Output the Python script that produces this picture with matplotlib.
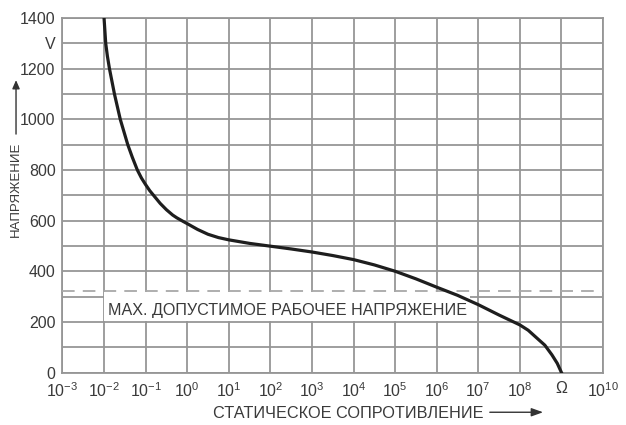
import numpy as np
import matplotlib
matplotlib.use("Agg")
import matplotlib.pyplot as plt
from matplotlib.patches import Rectangle, FancyArrowPatch

plt.rcParams["font.family"] = ["Liberation Sans", "DejaVu Sans"]
plt.rcParams["mathtext.fontset"] = "custom"
plt.rcParams["mathtext.rm"] = "Liberation Sans"
plt.rcParams["mathtext.it"] = "Liberation Sans:italic"

# curve: log10(resistance / ohm) vs voltage
log_r = [-2.0, -1.98, -1.96, -1.92, -1.87, -1.81, -1.75, -1.68, -1.61,
         -1.52, -1.43, -1.32, -1.2, -1.1, -1.0, -0.9, -0.78, -0.65, -0.5,
         -0.35, -0.25, -0.1, 0.0, 0.25, 0.5, 0.75, 1.0, 1.5, 2.0, 2.5,
         3.0, 3.5, 4.0, 4.5, 5.0, 5.5, 6.0, 6.5, 7.0, 7.5, 8.0, 8.2,
         8.45, 8.6, 8.77, 8.9, 9.0]
voltage = [1400, 1350, 1300, 1250, 1200, 1150, 1100, 1050, 1000,
           950, 900, 850, 800, 768, 742, 718, 694, 668, 643,
           622, 611, 597, 588, 565, 546, 533, 524, 510, 499, 488,
           476, 462, 446, 425, 400, 370, 337, 305, 268, 227, 188, 167,
           130, 108, 70, 36, 0]

max_working_v = 320
x_decades = list(range(-3, 11))
x_labels = [r"$10^{%d}$" % d for d in x_decades]
x_labels[x_decades.index(9)] = "Ω"
y_ticks = [0, 200, 400, 600, 800, 1000, 1200, 1300, 1400]
y_labels = ["0", "200", "400", "600", "800", "1000", "1200", "V", "1400"]

TXT = "#3a3a3a"
GRID = "#969696"

fig = plt.figure(figsize=(6.26, 4.25), dpi=100)
ax = fig.add_axes([0.0998, 0.1235, 0.8635, 0.834])

resistance = 10.0 ** np.array(log_r)
ax.plot(resistance, voltage, color="#1e1e1e", linewidth=2.3, zorder=4,
        solid_joinstyle="round")
ax.axhline(max_working_v, color="#a8a8a8", linewidth=1.3,
           linestyle=(0, (7, 4.5)), zorder=3)

ax.set_xscale("log")
ax.set_xlim(1e-3, 1e10)
ax.set_ylim(0, 1400)

ax.set_xticks([10.0 ** d for d in x_decades])
ax.set_xticklabels(x_labels)
ax.xaxis.set_minor_locator(matplotlib.ticker.NullLocator())
ax.set_yticks(y_ticks)
ax.set_yticklabels(y_labels)
ax.set_yticks(np.arange(0, 1401, 100), minor=True)
ax.tick_params(axis="both", which="both", length=0, labelsize=11.5,
               labelcolor=TXT)
ax.tick_params(axis="x", pad=6)
ax.tick_params(axis="y", pad=5)

ax.set_axisbelow(True)
ax.grid(True, which="major", axis="x", color=GRID, linewidth=1.3)
ax.grid(True, which="both", axis="y", color=GRID, linewidth=1.3)
for s in ax.spines.values():
    s.set_color(GRID)
    s.set_linewidth(1.3)

# white patch behind the limit label
ax.add_patch(Rectangle((1e-2, 205), 10 ** 6.8 - 1e-2, 113, facecolor="white",
                       edgecolor="none", zorder=2))
ax.text(10 ** -1.9, 245, "MAX. ДОПУСТИМОЕ РАБОЧЕЕ НАПРЯЖЕНИЕ", fontsize=11.6,
        color=TXT, va="center", ha="left", zorder=5)

# axis titles with arrows
fig.text(0.0256, 0.555, "НАПРЯЖЕНИЕ", rotation=90, fontsize=9.5, color=TXT,
         ha="center", va="center")
fig.patches.append(FancyArrowPatch(
    (0.0256, 0.678), (0.0256, 0.818), transform=fig.transFigure,
    arrowstyle="-|>,head_length=5,head_width=2.2", color="#333333",
    linewidth=1.0))

fig.text(0.340, 0.028, "СТАТИЧЕСКОЕ СОПРОТИВЛЕНИЕ", fontsize=11.7, color=TXT,
         ha="left", va="center")
fig.patches.append(FancyArrowPatch(
    (0.778, 0.030), (0.872, 0.030), transform=fig.transFigure,
    arrowstyle="-|>,head_length=7,head_width=2.5", color="#333333",
    linewidth=1.0))

fig.savefig("out.png", dpi=100, facecolor="white")
